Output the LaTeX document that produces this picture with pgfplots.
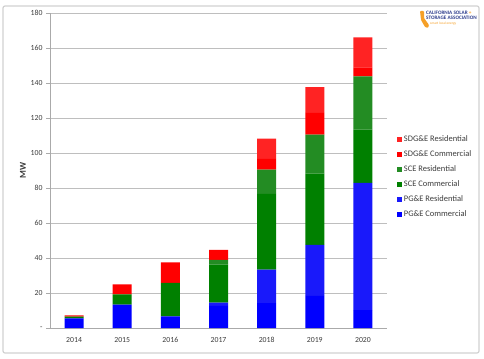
\documentclass[border=0pt]{standalone}
\usepackage{pgfplots}
\pgfplotsset{compat=1.18}
\usepackage{fontspec}
\setmainfont{Carlito}
\definecolor{pgec}{RGB}{0,0,255}
\definecolor{pger}{RGB}{25,25,250}
\definecolor{scec}{RGB}{0,128,0}
\definecolor{scer}{RGB}{35,140,35}
\definecolor{sdgc}{RGB}{255,0,0}
\definecolor{sdgr}{RGB}{255,35,35}
\definecolor{gridc}{RGB}{190,190,190}
\definecolor{axc}{RGB}{170,170,170}
\definecolor{txt}{RGB}{60,60,60}
\definecolor{logob}{RGB}{45,60,140}
\definecolor{logoo}{RGB}{245,160,40}
\begin{document}
\begin{tikzpicture}[x=1bp,y=1bp]
\useasboundingbox (0,0) rectangle (484,358);
\draw[rounded corners=2bp, color=black!18, line width=1.2bp] (3,5) rectangle (479,352);
\fill[logoo, rounded corners=0.8bp] (420,347) -- (424,347) -- (424,340) -- (429,333) -- (428,330) -- (425,331) -- (421,338) -- cycle;
\node[anchor=north west, align=left, inner sep=0pt, font=\fontsize{5.2}{5.4}\selectfont\bfseries] at (426,347.5)
 {\textcolor{logob}{CALIFORNIA SOLAR} \textcolor{logoo}{+}\\\textcolor{logob}{STORAGE ASSOCIATION}\\[-0.3bp]{\fontsize{3.5}{3.5}\selectfont\mdseries\textcolor{logoo}{\hspace{4bp}smart local energy}}};
\begin{axis}[
  at={(50bp,30bp)}, anchor=south west,
  scale only axis, width=337bp, height=315bp,
  ybar stacked, bar width=19bp,
  xmin=-0.5, xmax=6.5, ymin=0, ymax=180,
  xtick={0,1,2,3,4,5,6},
  xticklabels={2014,2015,2016,2017,2018,2019,2020},
  major x tick style={draw=none},
  extra x ticks={-0.5,0.5,1.5,2.5,3.5,4.5,5.5,6.5},
  extra x tick labels={},
  extra x tick style={tick style={draw=axc}, major tick length=4bp, tick align=outside, grid=none},
  ytick={0,20,...,180},
  yticklabels={-,20,40,60,80,100,120,140,160,180},
  ymajorgrids, grid style={gridc, line width=0.8bp},
  axis lines*=left,
  axis line style={draw=axc, line width=0.8bp},
  y tick style={draw=axc}, major tick length=4bp, tick align=outside,
  tick label style={font=\fontsize{7.8}{9}\selectfont, text=txt},
  xticklabel style={yshift=-2bp},
  ylabel={\textbf{MW}}, ylabel style={font=\fontsize{9}{10}\selectfont, text=txt, yshift=-2bp},
  reverse legend,
  legend cell align=left,
  legend style={draw=none, fill=none, at={(1.03,0.48)}, anchor=west,
    font=\fontsize{8.5}{9}\selectfont, text=txt, row sep=3.6bp, inner sep=0pt},
  legend image code/.code={\fill[#1] (0bp,-2.3bp) rectangle (4.6bp,2.3bp);},
  every axis plot/.append style={draw=none},
]
\addplot[fill=pgec] coordinates {(0,5.5) (1,13.4) (2,6.6) (3,12.6) (4,14.2) (5,18.3) (6,10.2)};
\addplot[fill=pger] coordinates {(0,0) (1,0) (2,0) (3,1.9) (4,19.2) (5,29.2) (6,72.7)};
\addplot[fill=scec] coordinates {(0,1.0) (1,5.8) (2,19.2) (3,21.7) (4,43.3) (5,40.7) (6,30.4)};
\addplot[fill=scer] coordinates {(0,0) (1,0) (2,0) (3,2.8) (4,13.8) (5,22.3) (6,30.5)};
\addplot[fill=sdgc] coordinates {(0,0.7) (1,5.7) (2,11.7) (3,5.7) (4,6.2) (5,12.4) (6,5.1)};
\addplot[fill=sdgr] coordinates {(0,0) (1,0) (2,0) (3,0) (4,11.5) (5,14.8) (6,17.2)};
\legend{PG\&E Commercial, PG\&E Residential, SCE Commercial, SCE Residential, SDG\&E Commercial, SDG\&E Residential}
\end{axis}
\end{tikzpicture}
\end{document}
